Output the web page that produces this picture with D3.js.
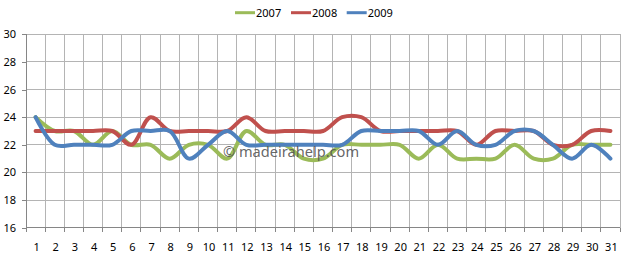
<!DOCTYPE html>
<html>
<head>
<meta charset="utf-8">
<script src="https://cdn.jsdelivr.net/npm/d3@7/dist/d3.min.js"></script>
<style>
  html, body { margin: 0; padding: 0; background: #ffffff; }
  svg { display: block; }
  text { font-family: "Noto Sans", "DejaVu Sans", sans-serif; }
</style>
</head>
<body>
<script>
const categories = [1,2,3,4,5,6,7,8,9,10,11,12,13,14,15,16,17,18,19,20,21,22,23,24,25,26,27,28,29,30,31];
const seriesNames = ["2007", "2008", "2009"];
const values2007 = [24,23,23,22,23,22,22,21,22,22,21,23,22,22,21,21,22,22,22,22,21,22,21,21,21,22,21,21,22,22,22];
const values2008 = [23,23,23,23,23,22,24,23,23,23,23,24,23,23,23,23,24,24,23,23,23,23,23,22,23,23,23,22,22,23,23];
const values2009 = [24,22,22,22,22,23,23,23,21,22,23,22,22,22,22,22,22,23,23,23,23,22,23,22,22,23,23,22,21,22,21];
const yTicks = [16,18,20,22,24,26,28,30];
const colors = ["#9bbb59", "#c0504d", "#4f81bd"];
const watermark = "\u00A9 madeirahelp.com";

(function () {
const W = 625, H = 261;
const pL = 26, pR = 620, pT = 34.3, pB = 227.7;

const svg = d3.select("body").append("svg").attr("width", W).attr("height", H);
svg.append("rect").attr("width", W).attr("height", H).attr("fill", "#fff");

const x = d3.scaleBand().domain(categories).range([pL, pR]).paddingInner(0).paddingOuter(0);
const y = d3.scaleLinear().domain([16, 30]).range([pB, pT]);
const cx = c => x(c) + x.bandwidth() / 2;

// horizontal gridlines
svg.append("g").selectAll("line").data(yTicks.filter(t => t !== 16)).join("line")
  .attr("x1", pL).attr("x2", pR)
  .attr("y1", d => y(d)).attr("y2", d => y(d))
  .attr("stroke", "#b4b4b4").attr("stroke-width", 1).attr("shape-rendering", "crispEdges");

// vertical gridlines at category boundaries
const bounds = categories.map(c => x(c)).concat([x(categories[categories.length - 1]) + x.bandwidth()]);
svg.append("g").selectAll("line").data(bounds.slice(1)).join("line")
  .attr("x1", d => d).attr("x2", d => d)
  .attr("y1", pT).attr("y2", pB)
  .attr("stroke", "#b4b4b4").attr("stroke-width", 1).attr("shape-rendering", "crispEdges");

// x axis ticks
svg.append("g").selectAll("line").data(bounds).join("line")
  .attr("x1", d => d).attr("x2", d => d)
  .attr("y1", pB).attr("y2", pB + 4)
  .attr("stroke", "#868686").attr("shape-rendering", "crispEdges");
svg.append("line").attr("x1", pL).attr("x2", pR).attr("y1", pB).attr("y2", pB)
  .attr("stroke", "#868686").attr("shape-rendering", "crispEdges");

// x labels
svg.append("g").selectAll("text").data(categories).join("text")
  .attr("x", d => cx(d) + 1).attr("y", 251)
  .attr("text-anchor", "middle").attr("font-size", 11).attr("fill", "#000")
  .text(d => d);

// y axis
const yAxis = d3.axisLeft(y).tickValues(yTicks).tickSize(4).tickPadding(6).tickFormat(d3.format("d"));
const ga = svg.append("g").attr("transform", `translate(${pL},0)`).call(yAxis);
ga.select(".domain").attr("stroke", "#868686").attr("shape-rendering", "crispEdges");
ga.selectAll(".tick line").attr("stroke", "#868686").attr("shape-rendering", "crispEdges");
ga.selectAll(".tick text").attr("font-size", 11).attr("fill", "#000")
  .attr("font-family", "\"Noto Sans\", sans-serif");

// series
const all = [values2007, values2008, values2009];
const line = d3.line()
  .x((d, i) => cx(categories[i]))
  .y(d => y(d))
  .curve(d3.curveCatmullRom.alpha(0.5));
svg.append("g").selectAll("path").data(all).join("path")
  .attr("d", d => line(d))
  .attr("fill", "none")
  .attr("stroke", (d, i) => colors[i])
  .attr("stroke-width", 4)
  .attr("stroke-linejoin", "round").attr("stroke-linecap", "round");

// watermark
svg.append("text").attr("x", 223).attr("y", 156.5)
  .attr("font-family", "\"Liberation Sans\", Arial, sans-serif")
  .attr("font-size", 14.6).attr("fill", "#555").attr("fill-opacity", 0.9)
  .text(watermark);

// legend
const legendX = [235, 291, 346.7];
const lg = svg.append("g").selectAll("g").data(seriesNames).join("g")
  .attr("transform", (d, i) => `translate(${legendX[i]},12.7)`);
lg.append("line").attr("x1", 0).attr("x2", 20).attr("y1", 0).attr("y2", 0)
  .attr("stroke", (d, i) => colors[i]).attr("stroke-width", 3);
lg.append("text").attr("x", 21).attr("y", 4).attr("font-size", 11).attr("fill", "#000").text(d => d);
})();
</script>
</body>
</html>
